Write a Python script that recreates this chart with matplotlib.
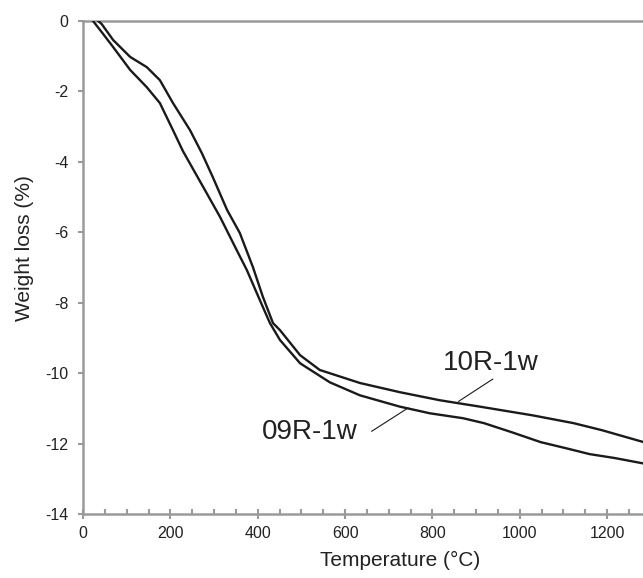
import matplotlib
matplotlib.use("Agg")
from matplotlib import pyplot as plt
from matplotlib.ticker import MultipleLocator

plt.rcParams['font.family'] = ['Liberation Sans', 'DejaVu Sans']
plt.rcParams['axes.unicode_minus'] = False

# data (temperature in C, weight loss in %)
t_09 = [23, 45, 69, 108, 146, 176, 206, 229, 275, 314, 352, 375, 405, 428,
        451, 497, 565, 634, 725, 794, 870, 918, 982, 1048, 1105, 1160, 1217, 1281]
w_09 = [0.0, -0.35, -0.74, -1.39, -1.88, -2.33, -3.10, -3.70, -4.71, -5.57,
        -6.51, -7.07, -7.93, -8.58, -9.06, -9.72, -10.26, -10.63, -10.95, -11.14,
        -11.28, -11.42, -11.68, -11.96, -12.13, -12.30, -12.41, -12.56]

t_10 = [35, 43, 69, 108, 146, 176, 206, 245, 272, 297, 330, 359, 389, 412, 435,
        451, 497, 542, 634, 725, 817, 908, 1030, 1123, 1188, 1281]
w_10 = [0.0, -0.09, -0.54, -1.02, -1.31, -1.68, -2.33, -3.10, -3.75, -4.43, -5.37,
        -6.02, -6.99, -7.84, -8.58, -8.78, -9.49, -9.91, -10.28, -10.54, -10.77,
        -10.95, -11.20, -11.42, -11.62, -11.95]

xmin, xmax = 0, 1282
ymin, ymax = -14, 0
xticks = [0, 200, 400, 600, 800, 1000, 1200]
yticks = [0, -2, -4, -6, -8, -10, -12, -14]

fig = plt.figure(figsize=(6.43, 5.78), dpi=100)
ax = fig.add_axes([83/643, 1-514/578, (643-83)/643, 493/578])

ax.plot(t_09, w_09, color='#1a1a1a', lw=1.7, solid_joinstyle='round')
ax.plot(t_10, w_10, color='#1a1a1a', lw=1.7, solid_joinstyle='round')

ax.set_xlim(xmin, xmax)
ax.set_ylim(ymin, ymax)
ax.set_xticks(xticks)
ax.set_yticks(yticks)
ax.xaxis.set_minor_locator(MultipleLocator(50))

gray = '#9a9a9a'
for s in ['left', 'bottom', 'top']:
    ax.spines[s].set_color(gray)
    ax.spines[s].set_linewidth(1.8)
    ax.spines[s].set_zorder(0)
ax.spines['right'].set_visible(False)

ax.tick_params(axis='x', which='major', direction='inout', length=7, width=1.5,
               color=gray, labelsize=11.5, labelcolor='#222222', pad=5)
ax.tick_params(axis='x', which='minor', direction='in', length=3.5, width=1.5,
               color=gray)
ax.tick_params(axis='y', which='major', direction='out', length=3.5, width=1.5,
               color=gray, labelsize=11.5, labelcolor='#222222', pad=7)

ax.set_xlabel('Temperature (°C)', fontsize=15, color='#222222')
ax.set_ylabel('Weight loss (%)', fontsize=15, color='#222222', va='center')
ax.xaxis.set_label_coords(0.566, -0.075)
ax.yaxis.set_label_coords(-0.104, 0.54)

# labels with leader lines
ax.text(824, -9.91, '10R-1w', fontsize=20, color='#222222', va='baseline', ha='left')
ax.plot([938, 860], [-10.17, -10.80], color='#1a1a1a', lw=0.8)
ax.text(410, -11.88, '09R-1w', fontsize=20, color='#222222', va='baseline', ha='left')
ax.plot([661, 744], [-11.65, -10.99], color='#1a1a1a', lw=0.8)

fig.savefig('out.png', dpi=100)
